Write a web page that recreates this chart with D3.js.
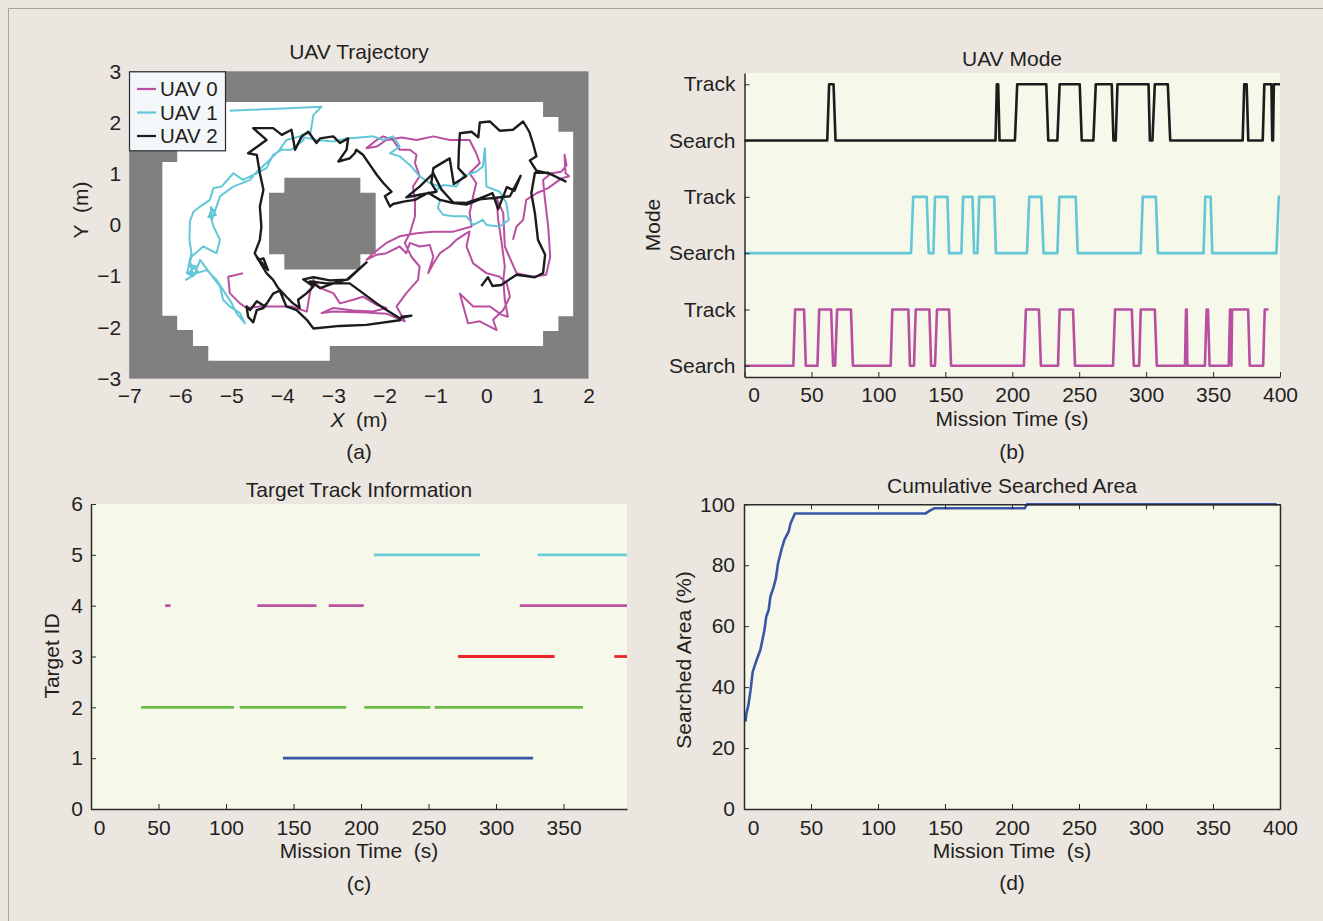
<!DOCTYPE html>
<html>
<head>
<meta charset="utf-8">
<script src="https://d3js.org/d3.v7.min.js"></script>
<style>
  body { margin: 0; background: #ebe6e0; }
  svg { display: block; font-family: "Liberation Sans", Arial, Helvetica, sans-serif; }
  .tick text { font-size: 21px; fill: #231f20; }
  .domain { stroke: #2b2b2b; stroke-width: 1.5; }
  .tick line { stroke: #2b2b2b; stroke-width: 1; }
</style>
</head>
<body>
<svg id="fig" width="1323" height="921"></svg>
<script>
// ---- (a) map: free space and the central obstacle, in metres
const freeSpace = [[-6.05, 2.40], [1.11, 2.40], [1.11, 2.11], [1.41, 2.11], [1.41, 1.82], [1.70, 1.82],
  [1.70, -1.78], [1.41, -1.78], [1.41, -2.07], [1.11, -2.07], [1.11, -2.36], [-3.07, -2.36],
  [-3.07, -2.65], [-5.45, -2.65], [-5.45, -2.36], [-5.75, -2.36], [-5.75, -2.05], [-6.06, -2.05],
  [-6.06, -1.77], [-6.35, -1.77], [-6.35, 1.23], [-6.06, 1.23]];
const obstacle = [[-3.96, 0.92], [-2.47, 0.92], [-2.47, 0.63], [-2.17, 0.63], [-2.17, -0.57], [-2.47, -0.57],
  [-2.47, -0.87], [-3.96, -0.87], [-3.96, -0.57], [-4.26, -0.57], [-4.26, 0.63], [-3.96, 0.63]];

// ---- (a) trajectories (x, y in m)
const uav0Path = [[-4.77,-0.94],[-5.06,-1.01],[-5.03,-1.33],[-4.83,-1.53],[-4.70,-1.62],[-4.44,-1.59],[-4.11,-1.59],
  [-3.82,-1.59],[-3.52,-1.69],[-3.46,-1.33],[-3.39,-1.07],[-3.26,-1.23],[-3.00,-1.33],[-2.87,-1.53],[-2.61,-1.46],
  [-2.42,-1.40],[-2.15,-1.56],[-1.96,-1.62],[-2.22,-1.69],[-2.61,-1.67],[-3.00,-1.62],[-3.23,-1.72],[-3.00,-1.69],
  [-2.35,-1.71],[-1.96,-1.73],[-1.60,-1.88],[-1.76,-1.59],[-1.57,-1.33],[-1.34,-1.07],[-1.31,-0.81],[-1.47,-0.62],
  [-1.60,-0.35],[-1.50,-0.16],[-1.40,0.17],[-1.40,0.49],[-1.44,0.75],[-1.31,0.95],[-1.40,1.21],[-1.37,1.37],
  [-1.50,1.47],[-1.70,1.47],[-1.83,1.66],[-2.02,1.73],[-2.15,1.66],[-2.35,1.50],[-2.15,1.53],[-1.96,1.66],
  [-1.66,1.71],[-1.37,1.66],[-1.04,1.73],[-0.72,1.66],[-0.33,1.66],[-0.20,1.40],[-0.13,1.21],[-0.33,1.01],
  [-0.20,0.82],[-0.26,0.56],[-0.33,0.23],[-0.29,-0.03],[-0.65,-0.13],[-1.04,-0.13],[-1.37,-0.16],[-1.70,-0.22],
  [-1.96,-0.35],[-2.22,-0.55],[-2.35,-0.68],[-2.15,-0.58],[-1.96,-0.55],[-1.70,-0.42],[-1.57,-0.55],[-1.50,-0.35],
  [-1.31,-0.42],[-1.11,-0.39],[-1.04,-0.62],[-1.14,-0.94],[-1.04,-0.75],[-0.91,-0.55],[-0.72,-0.42],[-0.59,-0.29],
  [-0.39,-0.16],[-0.33,-0.13],[-0.39,-0.42],[-0.26,-0.75],[0.00,-0.94],[0.26,-1.01],[0.40,-1.14],[0.46,-1.40],
  [0.33,-1.66],[0.13,-1.85],[0.20,-2.05],[-0.13,-1.88],[-0.36,-1.92],[-0.52,-1.34],[-0.26,-1.59],[0.07,-1.59],
  [0.29,-1.75],[0.42,-1.79],[0.36,-1.46],[0.33,-1.07],[0.36,-0.81],[0.29,-0.29],[0.23,0.10],[0.20,0.52],
  [0.33,0.23],[0.36,-0.42],[0.59,-0.94],[0.91,-1.01],[1.17,-0.97],[1.25,-0.62],[1.21,-0.03],[1.14,0.56],
  [1.11,0.88],[1.27,1.01],[1.47,1.04],[1.57,1.17],[1.53,1.37],[1.55,1.01],[1.62,0.95],[1.47,0.91],[1.21,0.72],
  [0.98,0.62],[0.78,0.49],[0.72,0.10],[0.59,-0.03],[0.52,-0.29]];

const uav1Path = [[-5.03,2.23],[-3.23,2.31],[-3.39,2.15],[-3.45,1.79],[-3.62,1.76],[-3.58,1.66],[-3.82,1.47],
  [-4.01,1.47],[-4.18,1.37],[-4.31,1.11],[-4.50,1.01],[-4.77,0.88],[-4.96,1.01],[-5.19,0.75],[-5.35,0.72],
  [-5.42,0.49],[-5.61,0.36],[-5.74,0.26],[-5.81,0.07],[-5.82,-0.29],[-5.78,-0.55],[-5.84,-0.81],[-5.70,-0.80],
  [-5.85,-0.95],[-5.75,-1.00],[-5.80,-0.75],[-5.65,-0.92],[-5.89,-1.07],[-5.68,-0.94],[-5.48,-0.88],[-5.29,-1.07],
  [-5.12,-1.33],[-4.99,-1.53],[-4.90,-1.72],[-4.73,-1.92],[-4.83,-1.72],[-5.03,-1.59],[-5.16,-1.46],[-5.22,-1.20],
  [-5.42,-0.94],[-5.61,-0.68],[-5.71,-0.94],[-5.87,-0.94],[-5.78,-0.62],[-5.55,-0.42],[-5.29,-0.55],[-5.22,-0.29],
  [-5.35,-0.03],[-5.42,0.23],[-5.35,0.30],[-5.45,0.15],[-5.30,0.20],[-5.40,0.35],[-5.38,0.10],[-5.29,0.36],
  [-5.22,0.56],[-4.96,0.75],[-4.63,0.88],[-4.50,1.04],[-4.31,1.21],[-4.05,1.47],[-3.92,1.66],[-3.66,1.73],
  [-3.33,1.66],[-3.00,1.63],[-2.74,1.69],[-2.48,1.71],[-2.22,1.73],[-2.02,1.66],[-1.83,1.73],[-1.70,1.53],
  [-1.89,1.40],[-1.70,1.34],[-1.47,1.14],[-1.31,0.95],[-1.11,0.82],[-0.91,0.75],[-1.04,0.62],[-0.85,0.78],
  [-0.59,0.75],[-0.46,0.95],[-0.20,1.04],[-0.07,1.14],[-0.03,1.50],[-0.01,1.01],[0.00,0.75],[0.26,0.65],
  [0.39,0.43],[0.44,0.10],[0.26,-0.03],[0.00,0.00],[-0.07,0.10],[-0.26,0.00],[-0.39,0.17],[-0.65,0.17],
  [-0.85,0.20],[-0.95,0.33],[-0.91,0.49]];

const uav2Path = [[-0.10,-1.19],[0.03,-1.02],[0.12,-1.19],[0.29,-1.17],[0.59,-0.97],[0.95,-1.02],[1.11,-0.94],
  [1.15,-0.58],[1.01,-0.29],[0.95,0.23],[0.88,0.62],[0.95,1.02],[1.21,1.02],[1.55,0.85],[1.24,1.00],[0.98,1.06],
  [0.85,1.26],[0.98,1.34],[0.91,1.60],[0.84,1.82],[0.72,2.02],[0.52,1.86],[0.26,1.84],[0.07,2.02],[-0.13,2.00],
  [-0.16,1.71],[-0.29,1.82],[-0.52,1.79],[-0.54,1.47],[-0.55,1.11],[-0.40,0.95],[-0.64,0.80],[-0.72,1.30],
  [-1.04,1.11],[-1.08,0.82],[-0.98,0.65],[-1.31,0.59],[-1.57,0.54],[-1.31,0.75],[-1.04,1.01],[-0.88,0.69],
  [-0.65,0.44],[-0.39,0.43],[-0.13,0.52],[0.12,0.62],[0.23,0.31],[0.40,0.74],[0.55,0.67],[0.67,0.96],[0.46,0.56],
  [-0.13,0.50],[-0.39,0.40],[-0.65,0.43],[-0.91,0.49],[-1.14,0.63],[-1.40,0.49],[-1.60,0.46],[-1.83,0.41],
  [-1.89,0.36],[-1.99,0.56],[-1.86,0.65],[-2.02,0.82],[-2.15,0.98],[-2.28,1.17],[-2.42,1.37],[-2.55,1.47],
  [-2.58,1.40],[-2.68,1.30],[-2.90,1.24],[-2.74,1.47],[-2.71,1.69],[-2.87,1.60],[-3.00,1.73],[-3.26,1.69],
  [-3.33,1.60],[-3.49,1.82],[-3.62,1.73],[-3.75,1.47],[-3.82,1.86],[-4.01,1.76],[-4.18,1.89],[-4.57,1.89],
  [-4.31,1.66],[-4.67,1.40],[-4.50,1.37],[-4.44,1.01],[-4.37,0.69],[-4.44,0.36],[-4.41,-0.03],[-4.44,-0.29],
  [-4.54,-0.55],[-4.47,-0.68],[-4.37,-0.65],[-4.28,-0.88],[-4.50,-0.62],[-4.31,-0.94],[-4.18,-1.07],[-4.08,-1.23],
  [-3.92,-1.40],[-3.79,-1.53],[-3.66,-1.62],[-3.69,-1.46],[-3.52,-1.33],[-3.39,-1.20],[-3.59,-1.06],[-3.39,-1.02],
  [-3.07,-1.08],[-2.74,-1.07],[-2.35,-0.73],[-2.71,-1.06],[-3.00,-1.14],[-3.26,-1.23],[-3.46,-1.10],[-3.13,-1.14],
  [-2.68,-1.14],[-2.42,-1.33],[-2.15,-1.53],[-2.02,-1.62],[-1.70,-1.82],[-1.47,-1.77],[-1.66,-1.79],[-1.70,-1.86],
  [-2.35,-1.95],[-2.87,-1.97],[-3.39,-2.02],[-3.52,-1.85],[-3.72,-1.66],[-3.92,-1.59],[-4.05,-1.28],[-4.18,-1.34],
  [-4.34,-1.59],[-4.50,-1.49],[-4.63,-1.66],[-4.70,-1.59],[-4.67,-1.79],[-4.57,-1.90],[-4.50,-1.66],[-4.37,-1.62],
  [-4.31,-1.53]];

const uavNames = ["UAV 0", "UAV 1", "UAV 2"];
const uavColors = ["#b84fa0", "#63c7d8", "#1c1c1c"];

// ---- (b) mode over time: [time s, 0 = Search / 1 = Track]
const uav0Mode = [[0,0],[36.5,0],[37.8,1],[44.5,1],[45.8,0],[54.5,0],[55.8,1],[64.7,1],[66.2,0],[67.7,0],[69.2,1],
  [79.5,1],[81,0],[109.2,0],[110.4,1],[122.4,1],[123.6,0],[126.6,0],[127.9,1],[138.1,1],[139.4,0],[142.3,0],
  [143.8,1],[152.8,1],[154.3,0],[208.7,0],[210.2,1],[219.9,1],[221.4,0],[234.2,0],[235.4,1],[245.4,1],[246.9,0],
  [275.3,0],[276.8,1],[289.3,1],[290.8,0],[294.8,0],[296,1],[306.5,1],[308,0],[329,0],[329.8,1],[330.3,1],
  [330.8,0],[343.9,0],[345.2,1],[346.2,1],[347.4,0],[361.7,0],[362.7,1],[363.3,1],[363.7,0],[364.2,1],[376.2,1],
  [377.4,0],[387.4,0],[388.6,1],[391.4,1]];
const uav1Mode = [[0,0],[124.4,0],[126,1],[136.1,1],[137.6,0],[141.1,0],[142.3,1],[151.6,1],[152.8,0],[162,0],
  [163.3,1],[170.3,1],[171.5,0],[174,0],[175.3,1],[186.5,1],[187.8,0],[211,0],[212.7,1],[221.7,1],[223.4,0],
  [233.7,0],[235.2,1],[247.4,1],[248.9,0],[296,0],[297.5,1],[307.3,1],[308.8,0],[342.9,0],[344.2,1],[348.2,1],
  [349.4,0],[397.3,0],[399.1,1],[400,1]];
const uav2Mode = [[0,0],[61.8,0],[63.2,1],[66.5,1],[68,0],[187.5,0],[188.5,1],[189.5,1],[190.5,0],[202,0],
  [203.7,1],[225.4,1],[226.9,0],[233.7,0],[235.4,1],[250.4,1],[251.9,0],[260.6,0],[262.4,1],[274.3,1],[275.6,0],
  [277.3,0],[278.6,1],[301.8,1],[302.8,0],[304.7,0],[306.5,1],[316.2,1],[318,0],[372.1,0],[373.3,1],[375.1,1],
  [376.3,0],[387.1,0],[388.3,1],[393.6,1],[394.2,0],[394.8,0],[395.4,1],[400,1]];
const modeLabels = ["Search", "Track"];

// ---- (c) target tracks
const trackTarget = [4, 4, 4, 4, 2, 2, 2, 2, 1, 5, 5, 3, 3];
const trackStart = [54.9, 123.2, 176.1, 317.6, 37.1, 110.1, 202.4, 254.5, 142.2, 209.5, 330.7, 271.9, 387.6];
const trackEnd = [58.9, 167, 202, 397, 105.9, 189, 251.4, 364.4, 327.5, 288.2, 397, 343.3, 397];
const targetColors = { 1: "#3a55a5", 2: "#6dbd45", 3: "#ec2227", 4: "#b9529f", 5: "#6dcbdc" };

// ---- (d) cumulative searched area
const areaTime = [1.1, 1.8, 3.3, 4.9, 6.5, 9, 12.2, 15.3, 16.6, 18.4, 19.7, 22.2, 23.8, 25.4, 27.9, 30.1, 33.3,
  34.8, 38, 135.6, 138.7, 141.9, 209.5, 211.1, 397.5];
const areaPct = [28.7, 31.4, 34.1, 39, 45, 48.4, 52.2, 58.8, 63.1, 65.3, 69.7, 73, 75.7, 80.6, 85, 88.3, 91,
  93.8, 97, 97, 97.9, 98.7, 98.7, 100, 100];

const svg = d3.select("#fig");
const plotBg = "#f6f8e9";
const FS = 21;

svg.append("rect").attr("width", 1323).attr("height", 921).attr("fill", "#ebe6e0");
svg.append("path").attr("d", "M8.5,921V8.5H1323").attr("fill", "none").attr("stroke", "#a9a39d");

function addText(x, y, str, size, opts = {}) {
  const t = svg.append("text")
    .attr("x", x).attr("y", y)
    .attr("text-anchor", "middle")
    .attr("font-size", size)
    .attr("fill", "#231f20")
    .style("white-space", "pre")
    .text(str);
  if (opts.rotate) t.attr("x", 0).attr("y", 0).attr("transform", `translate(${x},${y}) rotate(-90)`);
  return t;
}

function shiftZero(g, dx) {
  g.selectAll(".tick text").filter((d) => d === 0).attr("dx", dx);
}

const intFmt = d3.format("d");

// ================= (a) UAV Trajectory =================
const A = { l: 129.2, r: 588.5, t: 71.3, b: 378.7 };
const xA = d3.scaleLinear().domain([-7, 2]).range([A.l, A.r]);
const yA = d3.scaleLinear().domain([-3, 3]).range([A.b, A.t]);
const lineA = d3.line().x((d) => xA(d[0])).y((d) => yA(d[1]));

svg.append("rect").attr("x", A.l).attr("y", A.t).attr("width", A.r - A.l).attr("height", A.b - A.t)
  .attr("fill", "#808080");
svg.append("path").attr("d", lineA(freeSpace) + "Z").attr("fill", "#ffffff");
svg.append("path").attr("d", lineA(obstacle) + "Z").attr("fill", "#808080");

const paths = [uav0Path, uav1Path, uav2Path];
const widths = [2, 2, 2.4];
paths.forEach((p, i) => {
  svg.append("path").attr("d", lineA(p)).attr("fill", "none")
    .attr("stroke", uavColors[i]).attr("stroke-width", widths[i]).attr("stroke-linejoin", "round");
});

const gxA = svg.append("g").attr("transform", `translate(0,${A.b})`)
  .call(d3.axisBottom(xA).tickValues(d3.range(-7, 3)).tickFormat(intFmt).tickSize(0).tickPadding(9));
gxA.select(".domain").remove();
const gyA = svg.append("g").attr("transform", `translate(${A.l},0)`)
  .call(d3.axisLeft(yA).tickValues(d3.range(-3, 4)).tickFormat(intFmt).tickSize(0).tickPadding(8));
gyA.select(".domain").remove();

// legend
const leg = svg.append("g");
leg.append("rect").attr("x", 129.5).attr("y", 71.8).attr("width", 96).attr("height", 79)
  .attr("fill", "#f3f7fa").attr("stroke", "#2b2b2b").attr("stroke-width", 1.2);
uavNames.forEach((n, i) => {
  const yy = 89 + i * 23.5;
  leg.append("line").attr("x1", 137).attr("x2", 156).attr("y1", yy).attr("y2", yy)
    .attr("stroke", uavColors[i]).attr("stroke-width", 2.2);
  leg.append("text").attr("x", 160).attr("y", yy + 7).attr("font-size", 20.5).attr("fill", "#231f20").text(n);
});

addText(359, 58.5, "UAV Trajectory", FS);
const xl = addText(359, 427, "", FS);
xl.append("tspan").attr("font-style", "italic").text("X");
xl.append("tspan").text("  (m)");
addText(87.5, 210, "Y  (m)", FS, { rotate: true });
addText(359, 459, "(a)", FS);

// ================= (b) UAV Mode =================
const B = { l: 744.5, r: 1280, t: 73, b: 377 };
const xB = d3.scaleLinear().domain([0, 400]).range([B.l, B.r]);
const yB = d3.scaleLinear().domain([-0.2, 5.2]).range([B.b, B.t]);
svg.append("rect").attr("x", B.l).attr("y", B.t).attr("width", B.r - B.l).attr("height", B.b - B.t)
  .attr("fill", plotBg);

[uav0Mode, uav1Mode, uav2Mode].forEach((m, i) => {
  const line = d3.line().x((d) => xB(d[0])).y((d) => yB(d[1] + 2 * i));
  svg.append("path").attr("d", line(m)).attr("fill", "none")
    .attr("stroke", uavColors[i]).attr("stroke-width", 2.6).attr("stroke-linejoin", "round");
});

const gxB = svg.append("g").attr("transform", `translate(0,${B.b})`)
  .call(d3.axisBottom(xB).tickValues(d3.range(0, 401, 50)).tickSizeInner(-5).tickSizeOuter(0).tickPadding(10));
shiftZero(gxB, 9);
svg.append("g").attr("transform", `translate(${B.l},0)`)
  .call(d3.axisLeft(yB).tickValues(d3.range(0, 6)).tickFormat((d) => modeLabels[d % 2])
    .tickSizeInner(-5).tickSizeOuter(0).tickPadding(9));

addText(1012, 65.5, "UAV Mode", FS);
addText(1012, 426, "Mission Time (s)", FS);
addText(659.5, 225, "Mode", FS, { rotate: true });
addText(1012, 459, "(b)", FS);

// ================= (c) Target Track Information =================
const C = { l: 91, r: 627, t: 504, b: 809 };
const xC = d3.scaleLinear().domain([0, 397]).range([C.l, C.r]);
const yC = d3.scaleLinear().domain([0, 6]).range([C.b, C.t]);
svg.append("rect").attr("x", C.l).attr("y", C.t).attr("width", C.r - C.l).attr("height", C.b - C.t)
  .attr("fill", plotBg);

svg.append("g").selectAll("line").data(trackTarget).join("line")
  .attr("x1", (d, i) => xC(trackStart[i]))
  .attr("x2", (d, i) => xC(Math.min(trackEnd[i], 397)))
  .attr("y1", (d) => yC(d)).attr("y2", (d) => yC(d))
  .attr("stroke", (d) => targetColors[d]).attr("stroke-width", 2.8);

const gxC = svg.append("g").attr("transform", `translate(0,${C.b})`)
  .call(d3.axisBottom(xC).tickValues(d3.range(0, 351, 50)).tickSizeInner(-5).tickSizeOuter(0).tickPadding(11));
shiftZero(gxC, 8);
svg.append("g").attr("transform", `translate(${C.l},0)`)
  .call(d3.axisLeft(yC).tickValues(d3.range(0, 7)).tickFormat(intFmt)
    .tickSizeInner(-5).tickSizeOuter(0).tickPadding(8));

addText(359, 496.5, "Target Track Information", FS);
addText(359, 858, "Mission Time  (s)", FS);
addText(58.5, 656, "Target ID", FS, { rotate: true });
addText(359, 891, "(c)", FS);

// ================= (d) Cumulative Searched Area =================
const D = { l: 744, r: 1280, t: 504.3, b: 809 };
const xD = d3.scaleLinear().domain([0, 400]).range([D.l, D.r]);
const yD = d3.scaleLinear().domain([0, 100]).range([D.b, D.t]);
svg.append("rect").attr("x", D.l).attr("y", D.t).attr("width", D.r - D.l).attr("height", D.b - D.t)
  .attr("fill", plotBg);

const areaLine = d3.line().x((d, i) => xD(areaTime[i])).y((d) => yD(d));
svg.append("path").attr("d", areaLine(areaPct)).attr("fill", "none")
  .attr("stroke", "#3a57a7").attr("stroke-width", 2.6).attr("stroke-linejoin", "round");

const xTicksD = d3.range(0, 401, 50);
const yTicksD = d3.range(0, 101, 20);
const gxD = svg.append("g").attr("transform", `translate(0,${D.b})`)
  .call(d3.axisBottom(xD).tickValues(xTicksD).tickSizeInner(-5).tickSizeOuter(0).tickPadding(11));
shiftZero(gxD, 9);
svg.append("g").attr("transform", `translate(${D.l},0)`)
  .call(d3.axisLeft(yD).tickValues(yTicksD).tickSizeInner(-5).tickSizeOuter(0).tickPadding(9));
svg.append("g").attr("transform", `translate(0,${D.t})`)
  .call(d3.axisTop(xD).tickValues(xTicksD).tickFormat("").tickSizeInner(-5).tickSizeOuter(0));
svg.append("g").attr("transform", `translate(${D.r},0)`)
  .call(d3.axisRight(yD).tickValues(yTicksD).tickFormat("").tickSizeInner(-5).tickSizeOuter(0));

addText(1012, 492.5, "Cumulative Searched Area", FS);
addText(1012, 858, "Mission Time  (s)", FS);
addText(690.5, 660, "Searched Area (%)", FS, { rotate: true });
addText(1012, 890, "(d)", FS);
</script>
</body>
</html>
